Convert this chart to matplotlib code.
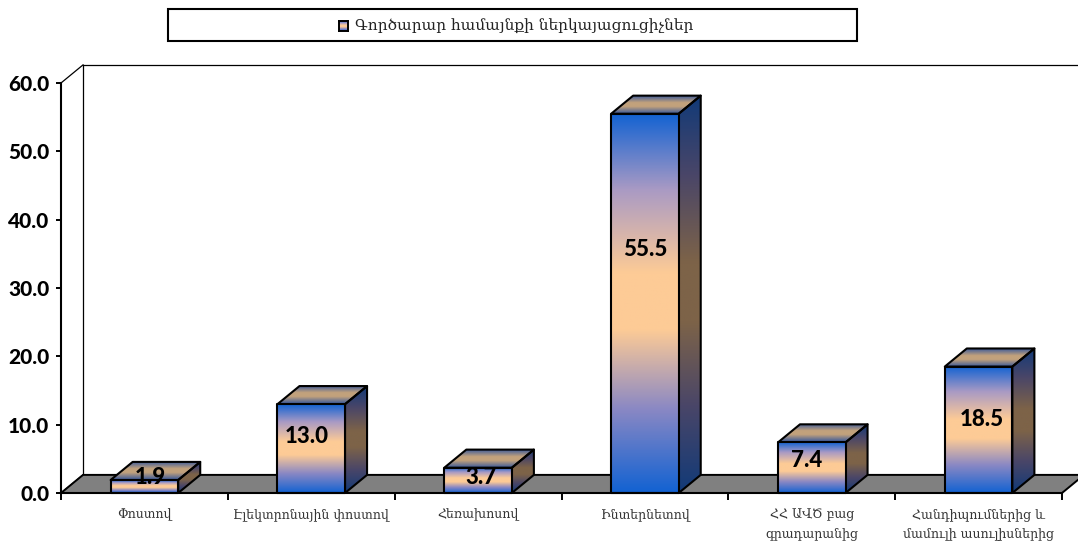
#!/usr/bin/python3

import numpy as np
from matplotlib import pyplot as plt
from matplotlib.colors import LinearSegmentedColormap
from matplotlib.patches import Polygon, Rectangle

categories = ['Փոստով', 'Էլեկտրոնային փոստով', 'Հեռախոսով', 'Ինտերնետով',
              'ՀՀ ԱՎԾ բաց\nգրադարանից', 'Հանդիպումներից և\nմամուլի ասուլիսներից']
values = [1.9, 13.0, 3.7, 55.5, 7.4, 18.5]
value_labels = ['1.9', '13.0', '3.7', '55.5', '7.4', '18.5']
yticks = [0, 10, 20, 30, 40, 50, 60]
legend_label = 'Գործարար համայնքի ներկայացուցիչներ'

# where the data labels sit, not the centre of the bar
label_y = [2.3, 8.2, 2.3, 35.7, 4.7, 10.7]
label_dx = [6, -5, 3, 0, -5, 3]

W, H = 1078, 548
BAR_W = 0.405
DX = 0.132   # depth of the fake 3d, in categories
DY = 2.65    # depth of the fake 3d, in value units

stops = [0, 0.22, 0.43, 0.58, 0.8, 1]
front = LinearSegmentedColormap.from_list('front', list(zip(stops, ['#1262d2', '#8a88c4', '#fdcb96', '#fdcb96', '#a99ac4', '#1262d2'])))
side = LinearSegmentedColormap.from_list('side', list(zip(stops, ['#113a78', '#4a4668', '#7d6348', '#7d6348', '#4a4668', '#113a78'])))
top = LinearSegmentedColormap.from_list('top', [(0, '#33559c'), (0.4, '#c2a27c'), (0.6, '#c2a27c'), (1, '#33559c')])
grad = np.linspace(0, 1, 256).reshape(-1, 1)

fig = plt.figure(figsize=(W / 100, H / 100), dpi=100)
ax = fig.add_axes([61 / W, 1 - 493 / H, 1001 / W, 410 / H])
ax.set_xlim(0, 6)
ax.set_ylim(0, 60)
ax.patch.set_visible(False)


def face(points, cmap, z):
    xs = [p[0] for p in points]
    ys = [p[1] for p in points]
    im = ax.imshow(grad, cmap=cmap, origin='lower', aspect='auto', zorder=z,
                   extent=(min(xs), max(xs), min(ys), max(ys)))
    poly = Polygon(points, closed=True, fc='none', ec='black', lw=1.5, zorder=z + 0.1,
                   joinstyle='round', clip_on=False)
    ax.add_patch(poly)
    im.set_clip_path(poly)


# walls and floor
wall = dict(color='black', lw=0.9, clip_on=False, zorder=1)
ax.plot([DX, DX], [DY, 60 + DY], **wall)
ax.plot([DX, 6 + DX], [60 + DY, 60 + DY], **wall)
ax.plot([0, DX], [60, 60 + DY], **wall)
ax.plot([0, DX], [0, DY], **wall)
ax.add_patch(Polygon([(0, 0), (6, 0), (6 + DX, DY), (DX, DY)], closed=True, fc='#808080',
                     ec='black', lw=1.4, clip_on=False, zorder=1.5))
ax.set_xlim(0, 6)
ax.set_ylim(0, 60)

for i, v in enumerate(values):
    x0 = i + 0.5 - BAR_W / 2
    x1 = i + 0.5 + BAR_W / 2
    face([(x1, 0), (x1 + DX, DY), (x1 + DX, v + DY), (x1, v)], side, 3)
    face([(x0, v), (x1, v), (x1 + DX, v + DY), (x0 + DX, v + DY)], top, 3)
    face([(x0, 0), (x1, 0), (x1, v), (x0, v)], front, 4)
    ax.annotate(value_labels[i], (i + 0.5, label_y[i]), xytext=(label_dx[i] * 0.72, 0),
                textcoords='offset points', ha='center', va='center', zorder=6,
                family='Lato', weight='black', fontsize=16, color='black')

for s in ['top', 'right']:
    ax.spines[s].set_visible(False)
for s in ['left', 'bottom']:
    ax.spines[s].set_linewidth(1.5)
    ax.spines[s].set_zorder(5)

ax.set_yticks(yticks)
ax.set_yticklabels(['%.1f' % t for t in yticks], family='Lato', weight='black', fontsize=15)
ax.tick_params(axis='y', length=3.5, width=1.4, pad=5)
ax.set_xticks(range(7))
ax.set_xticklabels([])
ax.tick_params(axis='x', length=5, width=1.4)
ax.set_xticks(np.arange(6) + 0.5, minor=True)
ax.set_xticklabels(categories, minor=True, family='DejaVu Serif', fontsize=9,
                   color='#333333', linespacing=1.6)
ax.tick_params(axis='x', which='minor', length=0, pad=11)

# legend box
fig.add_artist(Rectangle((168 / W, 1 - 41 / H), 689 / W, 32 / H, transform=fig.transFigure,
                         fc='white', ec='black', lw=1.5))
sw = fig.add_axes([339 / W, 1 - 31 / H, 9 / W, 10 / H], zorder=5)
sw.imshow(grad, cmap=front, origin='lower', aspect='auto')
sw.set_xticks([])
sw.set_yticks([])
for s in sw.spines.values():
    s.set_linewidth(1.4)
fig.text(355 / W, 1 - 26 / H, legend_label, family='DejaVu Serif', fontsize=11.1,
         color='#222222', ha='left', va='center', zorder=5)

fig.savefig('out.png', dpi=100)
